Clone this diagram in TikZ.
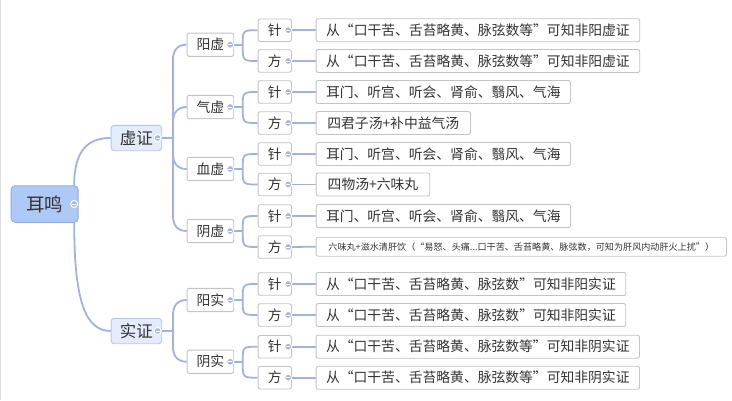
\documentclass[tikz,border=0pt]{standalone}
\usepackage{fontspec}
\setmainfont{Noto Sans CJK SC}
\usetikzlibrary{calc,backgrounds}
\definecolor{linkc}{HTML}{A0B3E0}
\definecolor{togfill}{HTML}{A6B6DE}
\definecolor{rootfill}{HTML}{AFC9F7}
\definecolor{rootdraw}{HTML}{8CAEEA}
\definecolor{lonefill}{HTML}{E4ECFB}
\definecolor{lonedraw}{HTML}{B3C8EE}
\definecolor{boxdraw}{HTML}{C4C4C4}
\definecolor{txt}{HTML}{333333}
\definecolor{edgegray}{HTML}{DDDDDD}
\tikzset{
 mm/.style={draw=boxdraw, fill=white, line width=0.9pt, rounded corners=2pt, inner sep=0pt, text=txt, anchor=west, font=\fontsize{13.8}{16}\selectfont},
 rootbox/.style={mm, fill=rootfill, draw=rootdraw, minimum width=67pt, minimum height=36.6pt, rounded corners=4pt, font=\fontsize{18.5}{22}\selectfont},
 lvone/.style={mm, fill=lonefill, draw=lonedraw, minimum width=50.6pt, minimum height=25.4pt, rounded corners=3pt, font=\fontsize{16.5}{19}\selectfont},
 lvtwo/.style={mm, minimum width=46.6pt, minimum height=23.3pt},
 lvthree/.style={mm, minimum width=33.3pt, minimum height=22.5pt},
 leaf/.style={mm, minimum height=23pt},
 tog/.style={circle, fill=togfill, draw=white, line width=1pt, minimum size=7pt, inner sep=0pt,
   path picture={\draw[white, line width=0.9pt] ([xshift=-2pt]path picture bounding box.center) -- ([xshift=2pt]path picture bounding box.center);}},
 link/.style={draw=linkc, line width=1.8pt},
}
\newcommand\mmUp[2]{\draw[link] (#1) -- ($(#1 |- #2.west)+(0,16)$) .. controls ($(#1 |- #2.west)+(0,5)$) and ($(#1 |- #2.west)+(5,0)$) .. (#2.west);}
\newcommand\mmDn[2]{\draw[link] (#1) -- ($(#1 |- #2.west)+(0,-16)$) .. controls ($(#1 |- #2.west)+(0,-5)$) and ($(#1 |- #2.west)+(5,0)$) .. (#2.west);}
\newcommand\mmBr[2]{\draw[link] (#1) .. controls (#1 |- #2.west) .. (#2.west);}
\begin{document}
\begin{tikzpicture}[x=1pt,y=-1pt]
\useasboundingbox (0,0) rectangle (732,400);
\draw[edgegray, line width=1pt] (0.5,0) -- (0.5,400);
% root and level 1
\node[rootbox] (r) at (10.7,204) {耳鸣};
\node[lvone] (a1) at (110.7,138) {虚证};
\node[lvone] (a2) at (110.7,331) {实证};
% level 2
\node[lvtwo] (b1) at (186.7,44.7) {阳虚};
\node[lvtwo] (b2) at (186.7,107) {气虚};
\node[lvtwo] (b3) at (186.7,169) {血虚};
\node[lvtwo] (b4) at (186.7,231) {阴虚};
\node[lvtwo] (b5) at (186.7,300) {阳实};
\node[lvtwo] (b6) at (186.7,361.7) {阴实};
% level 3
\node[lvthree] (c1) at (257.7,30.2) {针};
\node[lvthree] (c2) at (257.7,61) {方};
\node[lvthree] (c3) at (257.7,92) {针};
\node[lvthree] (c4) at (257.7,123) {方};
\node[lvthree] (c5) at (257.7,154) {针};
\node[lvthree] (c6) at (257.7,184.5) {方};
\node[lvthree] (c7) at (257.7,216) {针};
\node[lvthree] (c8) at (257.7,247) {方};
\node[lvthree] (c9) at (257.7,284) {针};
\node[lvthree] (c10) at (257.7,315) {方};
\node[lvthree] (c11) at (257.7,346.7) {针};
\node[lvthree] (c12) at (257.7,377.7) {方};
% leaves
\node[leaf, minimum width=323.6pt] (d1) at (315.7,30.2) {从“口干苦、舌苔略黄、脉弦数等”可知非阳虚证};
\node[leaf, minimum width=323.6pt] (d2) at (315.7,61) {从“口干苦、舌苔略黄、脉弦数等”可知非阳虚证};
\node[leaf, minimum width=254.3pt] (d3) at (315.7,92) {耳门、听宫、听会、肾俞、翳风、气海};
\node[leaf, minimum width=154.3pt] (d4) at (315.7,123) {四君子汤+补中益气汤};
\node[leaf, minimum width=254.3pt] (d5) at (315.7,154) {耳门、听宫、听会、肾俞、翳风、气海};
\node[leaf, minimum width=113.6pt] (d6) at (315.7,184.5) {四物汤+六味丸};
\node[leaf, minimum width=254.3pt] (d7) at (315.7,216) {耳门、听宫、听会、肾俞、翳风、气海};
\node[leaf, minimum width=410.3pt, minimum height=19pt, font=\fontsize{9.1}{11}\selectfont] (d8) at (315.7,246.7) {六味丸+滋水清肝饮（“易怒、头痛...口干苦、舌苔略黄、脉弦数，可知为肝风内动肝火上扰”）};
\node[leaf, minimum width=309.6pt] (d9) at (315.7,284) {从“口干苦、舌苔略黄、脉弦数”可知非阳实证};
\node[leaf, minimum width=309.6pt] (d10) at (315.7,315) {从“口干苦、舌苔略黄、脉弦数”可知非阳实证};
\node[leaf, minimum width=323.3pt] (d11) at (315.7,346.7) {从“口干苦、舌苔略黄、脉弦数等”可知非阴实证};
\node[leaf, minimum width=323.3pt] (d12) at (315.7,377.7) {从“口干苦、舌苔略黄、脉弦数等”可知非阴实证};
% toggles
\node[tog] (tr) at ($(r.east)+(-4.4,0)$) {};
\node[tog] (ta1) at ($(a1.east)+(-4.6,0)$) {};
\node[tog] (ta2) at ($(a2.east)+(-4.6,0)$) {};
\foreach \i in {1,...,6}{\node[tog] (tb\i) at ($(b\i.east)+(-4,0)$) {};}
\foreach \i in {1,...,12}{\node[tog] (tc\i) at ($(c\i.east)+(-3.7,0)$) {};}
% junctions
\coordinate (ja1) at ($(a1.east)+(10.7,0)$);
\coordinate (ja2) at ($(a2.east)+(10.7,0)$);
\foreach \i in {1,...,6}{\coordinate (jb\i) at ($(b\i.east)+(8.5,0)$);}
% connectors
\begin{pgfonlayer}{background}
\draw[link] (tr.center) -- (tr.center |- r.north) .. controls ($(tr.center |- a1.west)+(0,12)$) and ($(a1.west)+(-22.7,0)$) .. (a1.west);
\draw[link] (tr.center) -- (tr.center |- r.south) .. controls ($(tr.center |- a2.west)+(0,-31)$) and ($(a2.west)+(-25.7,0)$) .. (a2.west);
\draw[link] (ta1.center) -- (ja1);
\draw[link] (ta2.center) -- (ja2);
\mmUp{ja1}{b1}
\mmUp{ja1}{b2}
\mmDn{ja1}{b3}
\mmDn{ja1}{b4}
\mmUp{ja2}{b5}
\mmDn{ja2}{b6}
\foreach \i/\u/\d in {1/1/2,2/3/4,3/5/6,4/7/8,5/9/10,6/11/12}{
  \draw[link] (tb\i.center) -- (jb\i);
  \mmBr{jb\i}{c\u}
  \mmBr{jb\i}{c\d}
}
\foreach \i in {1,...,12}{\draw[link] (tc\i.center) -- (d\i.west);}
\end{pgfonlayer}
\end{tikzpicture}
\end{document}
